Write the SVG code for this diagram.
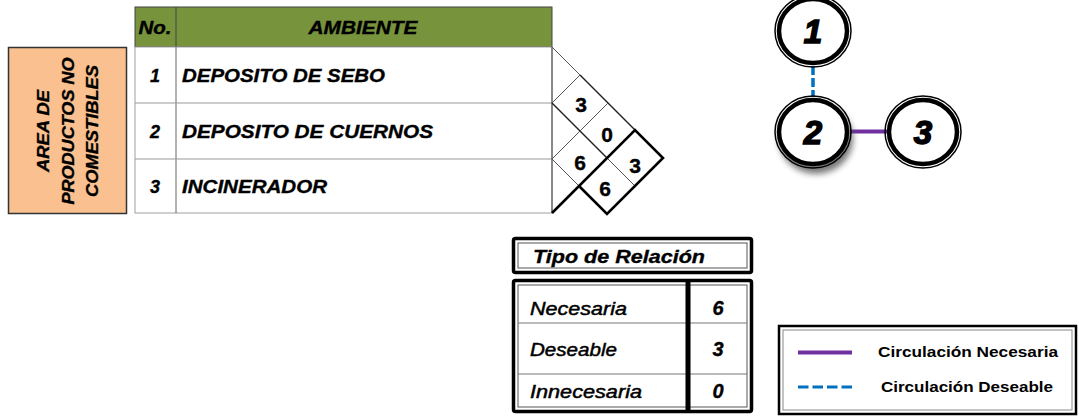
<svg xmlns="http://www.w3.org/2000/svg" width="1079" height="416" viewBox="0 0 1079 416">
<style>
.t{font-family:"Liberation Sans",Arial,sans-serif;fill:#000}
.bi{font-weight:bold;font-style:italic}
.hv{stroke:#000;stroke-width:0.35}
.cell{fill:#fff;stroke:#a0a0a0;stroke-width:1}
.thin{stroke:#555;stroke-width:1;fill:none}
.med{stroke:#222;stroke-width:1.4;fill:none}
.bold{stroke:#000;stroke-width:2.6;fill:none}
.ring{fill:#fff;stroke:#000;stroke-width:4.5}
.ringo{fill:none;stroke:#000;stroke-width:1.5}
.nodet{font-family:"Liberation Sans",Arial,sans-serif;font-weight:bold;font-style:italic;font-size:33px;fill:#000;stroke:#000;stroke-width:1.6;text-anchor:middle}
</style>
<defs>
<filter id="sh" x="-50%" y="-50%" width="200%" height="200%"><feGaussianBlur stdDeviation="3"/></filter>
<filter id="sh2" x="-20%" y="-100%" width="140%" height="300%"><feGaussianBlur stdDeviation="1.2"/></filter>
</defs>
<rect width="1079" height="416" fill="#fff"/>

<g id="area">
<rect x="8.5" y="47.5" width="118" height="166" fill="#FAC090" stroke="#333" stroke-width="1.5"/>
<g transform="translate(67,131) rotate(-90)">
<text class="t bi hv" x="0" y="-18" font-size="17" text-anchor="middle" textLength="82" lengthAdjust="spacingAndGlyphs">AREA DE</text>
<text class="t bi hv" x="0" y="7" font-size="17" text-anchor="middle" textLength="147" lengthAdjust="spacingAndGlyphs">PRODUCTOS NO</text>
<text class="t bi hv" x="0" y="31" font-size="17" text-anchor="middle" textLength="132" lengthAdjust="spacingAndGlyphs">COMESTIBLES</text>
</g>
</g>

<g id="table">
<rect x="135" y="7" width="417" height="40" fill="#77933C" stroke="#444" stroke-width="1"/>
<line x1="176" y1="7" x2="176" y2="47" stroke="#444" stroke-width="1"/>
<text class="t bi hv" x="155" y="34" font-size="18" text-anchor="middle" fill="#111" textLength="33" lengthAdjust="spacingAndGlyphs">No.</text>
<text class="t bi hv" x="363" y="34" font-size="18" text-anchor="middle" textLength="109" lengthAdjust="spacingAndGlyphs" fill="#111">AMBIENTE</text>
<rect class="cell" x="135" y="47" width="417" height="166"/>
<line x1="176" y1="47" x2="176" y2="213" stroke="#666" stroke-width="1"/>
<line x1="135" y1="103" x2="552" y2="103" stroke="#999" stroke-width="1"/>
<line x1="135" y1="159" x2="552" y2="159" stroke="#999" stroke-width="1"/>
<line x1="552" y1="47" x2="552" y2="213" stroke="#444" stroke-width="1"/>
</g>

<g id="row1">
<text class="t bi hv" x="155" y="82" font-size="18" text-anchor="middle">1</text>
<text class="t bi hv" x="182" y="82" font-size="18" textLength="203" lengthAdjust="spacingAndGlyphs">DEPOSITO DE SEBO</text>
</g>
<g id="row2">
<text class="t bi hv" x="155" y="138" font-size="18" text-anchor="middle">2</text>
<text class="t bi hv" x="182" y="138" font-size="18" textLength="251" lengthAdjust="spacingAndGlyphs">DEPOSITO DE CUERNOS</text>
</g>
<g id="row3">
<text class="t bi hv" x="155" y="193" font-size="18" text-anchor="middle">3</text>
<text class="t bi hv" x="182" y="193" font-size="18" textLength="145" lengthAdjust="spacingAndGlyphs">INCINERADOR</text>
</g>

<g id="matrix">
<path class="thin" d="M552,47 L580,75"/>
<path class="med" d="M580,75 L635,130"/>
<path class="thin" d="M552,103 L580,75"/>
<path class="med" d="M552,103 L607,158"/>
<path class="thin" d="M607,158 L635,186"/>
<path class="thin" d="M552,159 L608,103"/>
<path class="thin" d="M552,159 L580,187"/>
<path class="bold" d="M552,213 L635,130 L663,158 L607,214 L580,187"/>
<g class="t hv" font-weight="bold" font-size="21" text-anchor="middle">
<text x="581" y="112">3</text>
<text x="607" y="142">0</text>
<text x="580" y="170">6</text>
<text x="635" y="173">3</text>
<text x="605" y="196">6</text>
</g>
</g>

<g id="connectors">
<line x1="816" y1="68" x2="816" y2="98" stroke="#999" stroke-width="3" stroke-dasharray="9 3" filter="url(#sh2)"/>
<line x1="813" y1="66" x2="813" y2="97" stroke="#0070C0" stroke-width="3.5" stroke-dasharray="9 3"/>
<line x1="850" y1="136" x2="887" y2="136" stroke="#999" stroke-width="4" filter="url(#sh2)"/>
<line x1="850" y1="131.5" x2="887" y2="131.5" stroke="#7030A0" stroke-width="4"/>
</g>

<g id="node1">
<ellipse cx="813" cy="31" rx="38" ry="36" class="ringo"/>
<ellipse cx="813" cy="31" rx="34" ry="32" class="ring"/>
<text class="nodet" x="813" y="43">1</text>
</g>
<g id="node2">
<ellipse cx="816" cy="139" rx="37" ry="35" fill="#555" filter="url(#sh)" opacity="0.8"/>
<ellipse cx="813" cy="132" rx="38" ry="36" fill="#fff" class="ringo"/>
<ellipse cx="813" cy="132" rx="34" ry="32" class="ring"/>
<text class="nodet" x="813" y="144">2</text>
</g>
<g id="node3">
<ellipse cx="923" cy="132" rx="38" ry="36" class="ringo"/>
<ellipse cx="923" cy="132" rx="34" ry="32" class="ring"/>
<text class="nodet" x="923" y="144">3</text>
</g>

<g id="tipo">
<rect x="513.5" y="238.5" width="238" height="34" rx="2" fill="#fff" stroke="#000" stroke-width="3.5"/>
<rect x="518" y="243" width="229" height="25" fill="none" stroke="#555" stroke-width="1"/>
<text class="t bi hv" x="533" y="263" font-size="19" textLength="172" lengthAdjust="spacingAndGlyphs">Tipo de Relación</text>
</g>

<g id="relaciones">
<rect x="513.5" y="280.5" width="238" height="131" rx="2" fill="#fff" stroke="#000" stroke-width="3.5"/>
<rect x="518" y="285" width="229" height="122" fill="none" stroke="#555" stroke-width="1"/>
<line x1="518" y1="323" x2="747" y2="323" stroke="#777" stroke-width="1"/>
<line x1="518" y1="374" x2="747" y2="374" stroke="#777" stroke-width="1"/>
<line x1="688" y1="280" x2="688" y2="412" stroke="#000" stroke-width="5"/>
<g class="t" font-style="italic" font-size="19" stroke="#000" stroke-width="0.5">
<text x="530" y="315" textLength="97" lengthAdjust="spacingAndGlyphs">Necesaria</text>
<text x="530" y="356" textLength="87" lengthAdjust="spacingAndGlyphs">Deseable</text>
<text x="530" y="398" textLength="112" lengthAdjust="spacingAndGlyphs">Innecesaria</text>
</g>
<g class="t bi hv" font-size="20" text-anchor="middle">
<text x="718" y="315">6</text>
<text x="718" y="356">3</text>
<text x="718" y="398">0</text>
</g>
</g>

<g id="legend">
<rect x="779" y="326" width="297" height="88" fill="#fff" stroke="#000" stroke-width="2.5"/>
<rect x="783" y="330" width="289" height="80" fill="none" stroke="#888" stroke-width="1"/>
<line x1="798" y1="357" x2="852" y2="357" stroke="#999" stroke-width="4" filter="url(#sh2)"/>
<line x1="798" y1="352.5" x2="852" y2="352.5" stroke="#7030A0" stroke-width="4"/>
<line x1="798" y1="392" x2="852" y2="392" stroke="#aaa" stroke-width="3" stroke-dasharray="10.5 4" filter="url(#sh2)"/>
<line x1="798" y1="387" x2="852" y2="387" stroke="#0070C0" stroke-width="3" stroke-dasharray="10.5 4"/>
<text class="t" x="878" y="357" font-size="15" font-weight="bold" textLength="180" lengthAdjust="spacingAndGlyphs" fill="#111">Circulación Necesaria</text>
<text class="t" x="881" y="392" font-size="15" font-weight="bold" textLength="172" lengthAdjust="spacingAndGlyphs" fill="#111">Circulación Deseable</text>
</g>
</svg>
